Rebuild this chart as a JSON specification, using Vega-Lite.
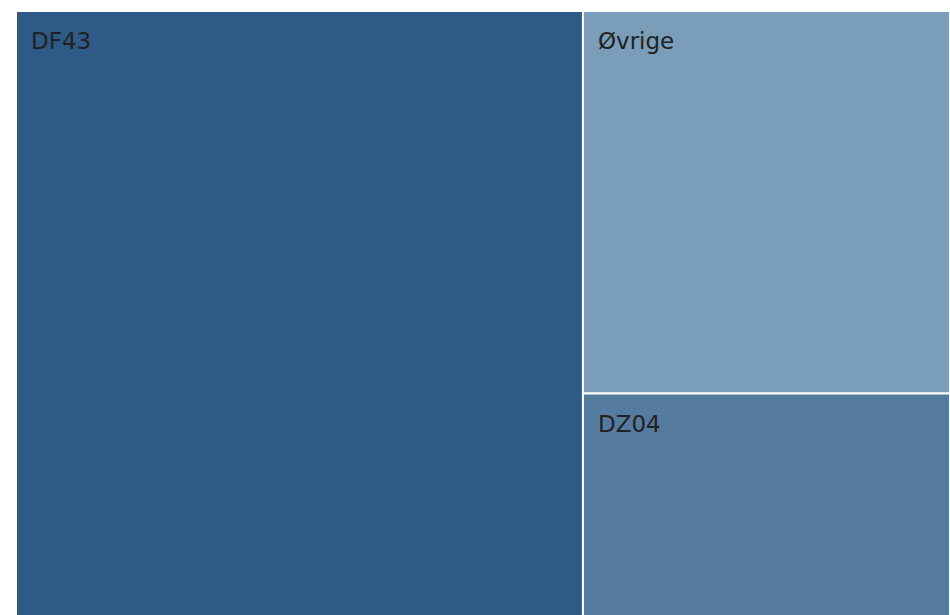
{
  "$schema": "https://vega.github.io/schema/vega-lite/v6.json",
  "width": 934,
  "height": 605,
  "autosize": "none",
  "padding": {"left": 16, "top": 11, "right": 0, "bottom": 0},
  "background": "white",
  "config": {"view": {"stroke": null}},
  "data": {
    "values": [
      {"name": "DF43", "group": 1, "order": 1, "value": 60.7},
      {"name": "Øvrige", "group": 2, "order": 2, "value": 24.85},
      {"name": "DZ04", "group": 2, "order": 3, "value": 14.45}
    ]
  },
  "transform": [
    {"joinaggregate": [{"op": "sum", "field": "value", "as": "total"}]},
    {"joinaggregate": [{"op": "sum", "field": "value", "as": "colTotal"}], "groupby": ["group"]},
    {"window": [{"op": "sum", "field": "value", "as": "cum"}], "sort": [{"field": "order"}], "frame": [null, 0]},
    {"calculate": "datum.cum - datum.value", "as": "before"},
    {"window": [{"op": "min", "field": "before", "as": "colStart"}], "groupby": ["group"], "frame": [null, null]},
    {"calculate": "datum.colStart / datum.total", "as": "x0"},
    {"calculate": "(datum.colStart + datum.colTotal) / datum.total", "as": "x1"},
    {"stack": "value", "groupby": ["group"], "sort": [{"field": "order"}], "as": ["y0", "y1"], "offset": "normalize"}
  ],
  "layer": [
    {
      "mark": {"type": "rect", "stroke": "white", "strokeWidth": 2},
      "encoding": {
        "x": {"field": "x0", "type": "quantitative", "scale": {"domain": [0, 1], "nice": false, "zero": false}, "axis": null},
        "x2": {"field": "x1"},
        "y": {"field": "y0", "type": "quantitative", "scale": {"domain": [0, 1], "nice": false, "reverse": true}, "axis": null},
        "y2": {"field": "y1"},
        "color": {"field": "name", "type": "nominal", "scale": {"domain": ["DF43", "Øvrige", "DZ04"], "range": ["#2d5a87", "#7a9dba", "#557b9f"]}, "legend": null}
      }
    },
    {
      "mark": {"type": "text", "align": "left", "baseline": "alphabetic", "dx": 15, "dy": 38, "fontSize": 23, "font": "DejaVu Sans", "color": "#222222"},
      "encoding": {
        "x": {"field": "x0", "type": "quantitative"},
        "y": {"field": "y0", "type": "quantitative"},
        "text": {"field": "name", "type": "nominal"}
      }
    }
  ]
}
